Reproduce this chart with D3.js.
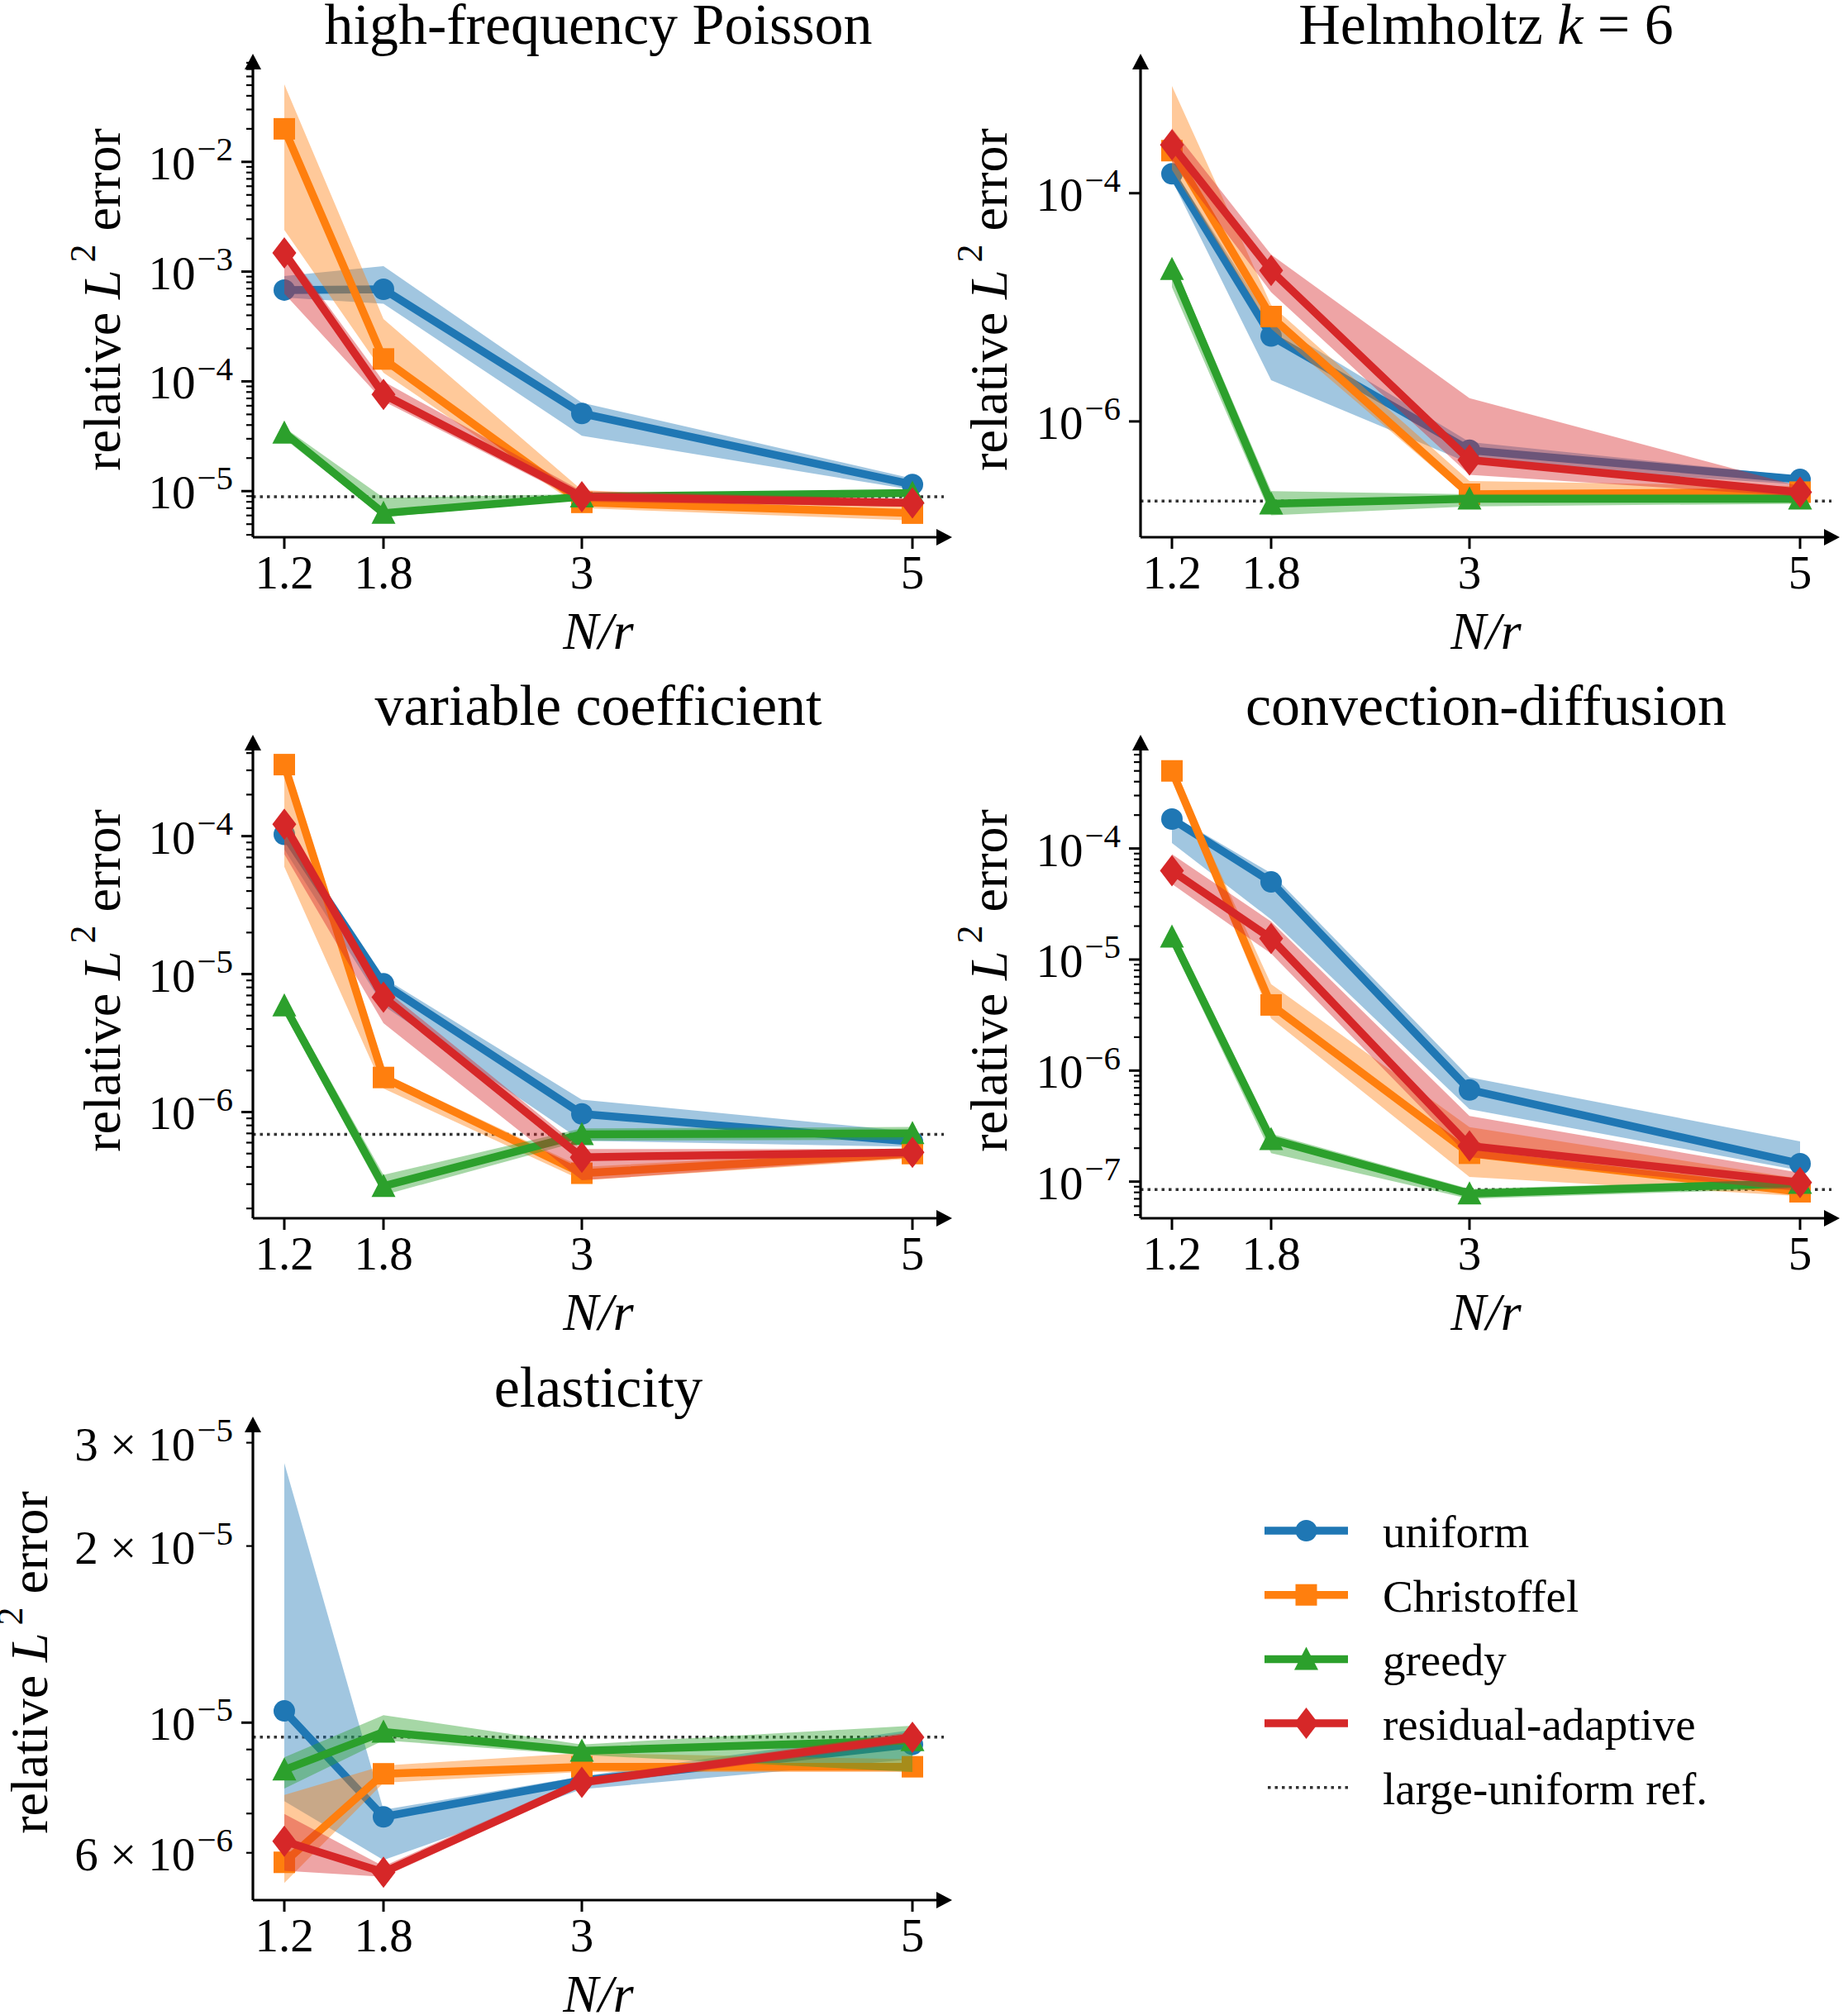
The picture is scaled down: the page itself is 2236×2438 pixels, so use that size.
<!DOCTYPE html>
<html>
<head>
<meta charset="utf-8">
<script src="https://cdn.jsdelivr.net/npm/d3@7"></script>
<style>
  body { margin: 0; background: #fff; }
  text { font-family: "Liberation Serif", "DejaVu Serif", serif; fill: #000; }
</style>
</head>
<body>
<div id="chart"></div>
<script>
// x positions (N/r) shared by every panel
const xValues = [1.2, 1.8, 3, 5];
const xTickLabels = ['1.2', '1.8', '3', '5'];
const methodNames = ['uniform', 'Christoffel', 'greedy', 'residual-adaptive'];
const methodColors = ['#1f77b4', '#ff7f0e', '#2ca02c', '#d62728'];
const methodMarkers = ['circle', 'square', 'triangle', 'diamond'];
const refName = 'large-uniform ref.';

// rows: uniform, Christoffel, greedy, residual-adaptive
const poissonMean = [[6.8e-4, 6.9e-4, 5.1e-5, 1.15e-5], [2.0e-2, 1.6e-4, 7.9e-6, 6.3e-6], [3.4e-5, 6.3e-6, 8.9e-6, 9.6e-6], [1.48e-3, 7.6e-5, 8.9e-6, 7.8e-6]];
const poissonLow  = [[5.8e-4, 5.1e-4, 3.2e-5, 1.03e-5], [2.4e-3, 1.2e-4, 7.0e-6, 5.4e-6], [3.0e-5, 5.8e-6, 8.4e-6, 9.1e-6], [6.3e-4, 6.6e-5, 8.0e-6, 7.2e-6]];
const poissonHigh = [[9.1e-4, 1.12e-3, 6.4e-5, 1.3e-5], [5.1e-2, 3.7e-4, 1.02e-5, 7.5e-6], [3.8e-5, 8.7e-6, 9.4e-6, 1.0e-5], [1.7e-3, 1.0e-4, 1.0e-5, 8.5e-6]];
const poissonRef = 8.9e-6;

const helmholtzMean = [[1.48e-4, 5.6e-6, 5.6e-7, 3.1e-7], [2.36e-4, 8.3e-6, 2.3e-7, 2.4e-7], [2.16e-5, 1.9e-7, 2.1e-7, 2.1e-7], [2.65e-4, 2.1e-5, 4.6e-7, 2.4e-7]];
const helmholtzLow  = [[1.3e-4, 2.3e-6, 4.3e-7, 2.8e-7], [1.6e-4, 6.5e-6, 2.1e-7, 2.2e-7], [1.5e-5, 1.5e-7, 1.8e-7, 1.9e-7], [1.9e-4, 1.36e-5, 3.4e-7, 2.2e-7]];
const helmholtzHigh = [[1.7e-4, 7.4e-6, 6.6e-7, 3.3e-7], [8.7e-4, 1.05e-5, 3.0e-7, 2.7e-7], [2.6e-5, 2.45e-7, 2.3e-7, 2.3e-7], [3.7e-4, 2.9e-5, 1.6e-6, 2.7e-7]];
const helmholtzRef = 2.0e-7;

const varcoefMean = [[1.03e-4, 8.5e-6, 9.7e-7, 6.1e-7], [3.3e-4, 1.78e-6, 3.6e-7, 5.0e-7], [5.9e-6, 2.9e-7, 6.9e-7, 7.0e-7], [1.22e-4, 6.8e-6, 4.7e-7, 5.1e-7]];
const varcoefLow  = [[8.0e-5, 5.9e-6, 6.2e-7, 5.6e-7], [6.0e-5, 1.48e-6, 3.2e-7, 4.6e-7], [5.2e-6, 2.5e-7, 6.2e-7, 6.3e-7], [7.4e-5, 4.4e-6, 3.2e-7, 4.7e-7]];
const varcoefHigh = [[1.15e-4, 9.4e-6, 1.23e-6, 7.2e-7], [3.6e-4, 1.9e-6, 4.0e-7, 5.4e-7], [6.6e-6, 3.5e-7, 7.6e-7, 7.8e-7], [1.3e-4, 7.9e-6, 5.4e-7, 5.4e-7]];
const varcoefRef = 6.9e-7;

const convdiffMean = [[1.84e-4, 5.0e-5, 6.7e-7, 1.45e-7], [5.0e-4, 3.9e-6, 1.8e-7, 8.1e-8], [1.6e-5, 2.4e-7, 7.8e-8, 9.7e-8], [6.3e-5, 1.55e-5, 2.1e-7, 9.8e-8]];
const convdiffLow  = [[1.12e-4, 2.3e-5, 4.5e-7, 1.26e-7], [4.6e-4, 2.95e-6, 1.1e-7, 7.4e-8], [1.35e-5, 1.8e-7, 7.0e-8, 8.7e-8], [4.8e-5, 1.13e-5, 1.66e-7, 8.2e-8]];
const convdiffHigh = [[2.0e-4, 6.0e-5, 8.7e-7, 2.3e-7], [5.4e-4, 6.0e-6, 3.1e-7, 1.06e-7], [1.86e-5, 2.7e-7, 8.6e-8, 1.05e-7], [8.9e-5, 2.2e-5, 3.9e-7, 1.2e-7]];
const convdiffRef = 8.5e-8;

const elasticityMean = [[1.047e-5, 6.91e-6, 7.97e-6, 9.18e-6], [5.78e-6, 8.18e-6, 8.41e-6, 8.41e-6], [8.31e-6, 9.64e-6, 8.95e-6, 9.33e-6], [6.28e-6, 5.56e-6, 7.91e-6, 9.44e-6]];
const elasticityLow  = [[7.35e-6, 5.83e-6, 7.7e-6, 8.66e-6], [5.33e-6, 7.9e-6, 8.24e-6, 8.24e-6], [7.72e-6, 9.33e-6, 8.81e-6, 8.24e-6], [5.59e-6, 5.46e-6, 7.78e-6, 9.25e-6]];
const elasticityHigh = [[2.77e-5, 7.1e-6, 8.1e-6, 9.72e-6], [7.53e-6, 8.45e-6, 8.88e-6, 8.66e-6], [8.73e-6, 1.03e-5, 9.18e-6, 9.88e-6], [6.99e-6, 5.69e-6, 8.04e-6, 9.64e-6]];
const elasticityRef = 9.45e-6;

const panels = [
  { title: [{ t: 'high-frequency Poisson' }], mean: poissonMean, low: poissonLow, high: poissonHigh, ref: poissonRef,
    yLim: [-5.42, -1.09], majorStep: 1, minor: true, minorLabels: [] },
  { title: [{ t: 'Helmholtz ' }, { t: 'k', it: true }, { t: ' = 6' }], mean: helmholtzMean, low: helmholtzLow, high: helmholtzHigh, ref: helmholtzRef,
    yLim: [-7.015, -2.85], majorStep: 2, minor: false, minorLabels: [] },
  { title: [{ t: 'variable coefficient' }], mean: varcoefMean, low: varcoefLow, high: varcoefHigh, ref: varcoefRef,
    yLim: [-6.77, -3.325], majorStep: 1, minor: true, minorLabels: [] },
  { title: [{ t: 'convection-diffusion' }], mean: convdiffMean, low: convdiffLow, high: convdiffHigh, ref: convdiffRef,
    yLim: [-7.33, -3.05], majorStep: 1, minor: true, minorLabels: [] },
  { title: [{ t: 'elasticity' }], mean: elasticityMean, low: elasticityLow, high: elasticityHigh, ref: elasticityRef,
    yLim: [-5.3025, -4.4925], majorStep: 1, minor: true, minorLabels: [2, 3, 4, 6] }
];

// LAYOUT
const W = 2236, H = 2438;
const colLeft = [306, 1380];
const rowBottom = [650, 1474, 2299];
const plotW = 836, plotH = 575;
const yLabelX = [145, 1218];
const tickFs = 57, supFs = 41;

const svg = d3.select('#chart').append('svg')
  .attr('width', W).attr('height', H)
  .attr('xmlns', 'http://www.w3.org/2000/svg');
svg.append('rect').attr('width', W).attr('height', H).attr('fill', '#fff');

function markerPath(type) {
  if (type === 'circle') {
    const r = 13;
    return `M${-r},0A${r},${r} 0 1,0 ${r},0A${r},${r} 0 1,0 ${-r},0Z`;
  }
  if (type === 'square') return 'M-13,-13H13V13H-13Z';
  if (type === 'triangle') return 'M0,-15L14.5,13L-14.5,13Z';
  return 'M0,-19L14.5,0L0,19L-14.5,0Z';
}

function supText(sel, main, sup) {
  sel.append('tspan').text(main);
  sel.append('tspan').attr('font-size', supFs).attr('dx', 2).attr('dy', -0.4 * tickFs).text(sup);
}

panels.forEach(function(p, i) {
  const col = i % 2, row = Math.floor(i / 2);
  const left = colLeft[col], bottom = rowBottom[row];
  const top = bottom - plotH, right = left + plotW;
  const g = svg.append('g').attr('class', 'panel');

  const x = d3.scaleLinear().domain([1.01, 5.19]).range([left, right]);
  const y = d3.scaleLog().domain([Math.pow(10, p.yLim[0]), Math.pow(10, p.yLim[1])]).range([bottom, top]);

  // reference line (under everything)
  g.append('line')
    .attr('x1', left).attr('x2', right)
    .attr('y1', y(p.ref)).attr('y2', y(p.ref))
    .attr('stroke', '#333').attr('stroke-width', 3.5)
    .attr('stroke-dasharray', '3.5,5');

  methodNames.forEach(function(m, k) {
    const pts = xValues.map(function(xv, j) {
      return { x: xv, m: p.mean[k][j], lo: p.low[k][j], hi: p.high[k][j] };
    });
    const area = d3.area().x(d => x(d.x)).y0(d => y(d.lo)).y1(d => y(d.hi));
    g.append('path').attr('d', area(pts))
      .attr('fill', methodColors[k]).attr('fill-opacity', 0.42);
    const line = d3.line().x(d => x(d.x)).y(d => y(d.m));
    g.append('path').attr('d', line(pts))
      .attr('fill', 'none').attr('stroke', methodColors[k])
      .attr('stroke-width', 9.5).attr('stroke-linejoin', 'round');
    g.selectAll(null).data(pts).enter().append('path')
      .attr('d', markerPath(methodMarkers[k]))
      .attr('transform', d => 'translate(' + x(d.x) + ',' + y(d.m) + ')')
      .attr('fill', methodColors[k]);
  });

  // axes spines with arrows
  g.append('line').attr('x1', left).attr('x2', right).attr('y1', bottom).attr('y2', bottom)
    .attr('stroke', '#000').attr('stroke-width', 3.2);
  g.append('line').attr('x1', left).attr('x2', left).attr('y1', bottom).attr('y2', top)
    .attr('stroke', '#000').attr('stroke-width', 3.2);
  g.append('path').attr('d', `M${right + 10},${bottom}L${right - 9},${bottom - 10}L${right - 9},${bottom + 10}Z`).attr('fill', '#000');
  g.append('path').attr('d', `M${left},${top - 10}L${left - 10},${top + 9}L${left + 10},${top + 9}Z`).attr('fill', '#000');

  // x ticks
  xValues.forEach(function(xv, j) {
    g.append('line').attr('x1', x(xv)).attr('x2', x(xv)).attr('y1', bottom).attr('y2', bottom + 14)
      .attr('stroke', '#000').attr('stroke-width', 3);
    g.append('text').attr('x', x(xv)).attr('y', bottom + 62)
      .attr('text-anchor', 'middle').attr('font-size', tickFs).text(xTickLabels[j]);
  });
  g.append('text').attr('x', (left + right) / 2).attr('y', bottom + 135)
    .attr('text-anchor', 'middle').attr('font-size', 64).attr('font-style', 'italic').text('N/r');

  // y ticks
  const lo = p.yLim[0], hi = p.yLim[1];
  for (let e = Math.floor(lo); e <= Math.ceil(hi); e++) {
    if (e >= lo && e <= hi && e % p.majorStep === 0) {
      const yy = y(Math.pow(10, e));
      g.append('line').attr('x1', left - 14).attr('x2', left).attr('y1', yy).attr('y2', yy)
        .attr('stroke', '#000').attr('stroke-width', 3);
      const t = g.append('text').attr('x', left - 24).attr('y', yy + 21)
        .attr('text-anchor', 'end').attr('font-size', tickFs);
      supText(t, '10', '\u2212' + Math.abs(e));
    }
    if (!p.minor) continue;
    for (let mm = 2; mm <= 9; mm++) {
      const lv = e + Math.log10(mm);
      if (lv <= lo + 0.005 || lv >= hi) continue;
      const yy = y(mm * Math.pow(10, e));
      g.append('line').attr('x1', left - 8).attr('x2', left).attr('y1', yy).attr('y2', yy)
        .attr('stroke', '#000').attr('stroke-width', 2.2);
      if (p.minorLabels.indexOf(mm) >= 0) {
        const t = g.append('text').attr('x', left - 24).attr('y', yy + 21)
          .attr('text-anchor', 'end').attr('font-size', tickFs);
        supText(t, mm + ' \u00d7 10', '\u2212' + Math.abs(e));
      }
    }
  }

  // y label
  const ylx = i === 4 ? 57 : yLabelX[col];
  const yl = g.append('text')
    .attr('transform', 'translate(' + ylx + ',' + ((top + bottom) / 2) + ') rotate(-90)')
    .attr('text-anchor', 'middle').attr('font-size', 64);
  yl.append('tspan').text('relative ');
  yl.append('tspan').attr('font-style', 'italic').text('L');
  yl.append('tspan').attr('font-size', 44).attr('dy', -30).text('\u20092');
  yl.append('tspan').attr('dy', 30).text(' error');

  // title
  const tt = g.append('text').attr('x', (left + right) / 2).attr('y', top - 22)
    .attr('text-anchor', 'middle').attr('font-size', 70);
  p.title.forEach(function(s) {
    const ts = tt.append('tspan').text(s.t);
    if (s.it) ts.attr('font-style', 'italic');
  });
});

// LEGEND
const legX0 = 1530, legX1 = 1631, legTextX = 1673, legY0 = 1852, legStep = 77.7;
methodNames.forEach(function(m, k) {
  const yy = legY0 + k * legStep;
  svg.append('line').attr('x1', legX0).attr('x2', legX1).attr('y1', yy).attr('y2', yy)
    .attr('stroke', methodColors[k]).attr('stroke-width', 9.5);
  svg.append('path').attr('d', markerPath(methodMarkers[k]))
    .attr('transform', 'translate(' + ((legX0 + legX1) / 2) + ',' + yy + ')')
    .attr('fill', methodColors[k]);
  svg.append('text').attr('x', legTextX).attr('y', yy + 20).attr('font-size', 55).text(m);
});
const refY = legY0 + 4 * legStep;
svg.append('line').attr('x1', legX0 + 4).attr('x2', legX1).attr('y1', refY).attr('y2', refY)
  .attr('stroke', '#333').attr('stroke-width', 3.5).attr('stroke-dasharray', '3.5,5');
svg.append('text').attr('x', legTextX).attr('y', refY + 20).attr('font-size', 55).text(refName);
</script>
</body>
</html>
